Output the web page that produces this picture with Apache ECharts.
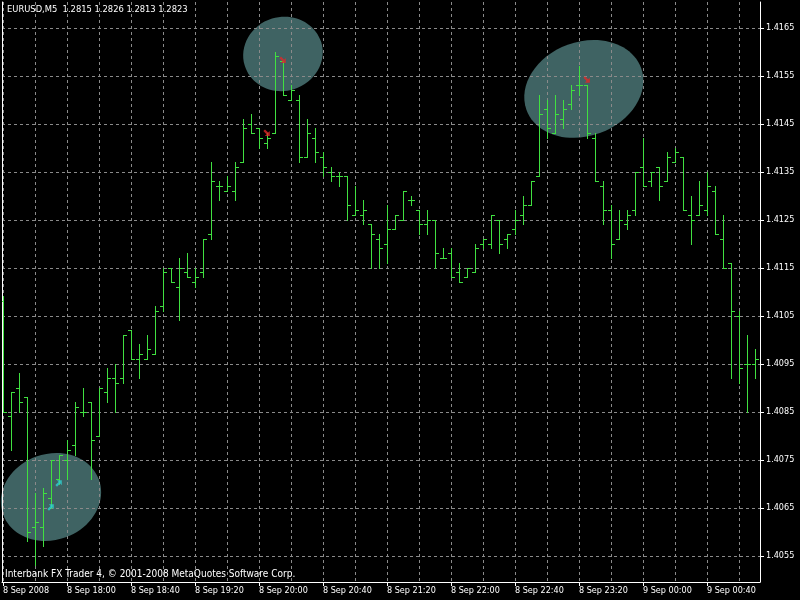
<!DOCTYPE html>
<html><head><meta charset="utf-8">
<script src="https://cdn.jsdelivr.net/npm/echarts@6/dist/echarts.min.js"></script>
<style>html,body{margin:0;padding:0;background:#000;}#c{width:800px;height:600px;}</style>
</head><body><div id="c"></div>
<script>
// ---- data ----
const timeLabels = ['8 Sep 2008','8 Sep 18:00','8 Sep 18:40','8 Sep 19:20','8 Sep 20:00','8 Sep 20:40','8 Sep 21:20','8 Sep 22:00','8 Sep 22:40','8 Sep 23:20','9 Sep 00:00','9 Sep 00:40'];
const timeLabelBars = [0,8,16,24,32,40,48,56,64,72,80,88];
const priceTicks = [1.4055,1.4065,1.4075,1.4085,1.4095,1.4105,1.4115,1.4125,1.4135,1.4145,1.4155,1.4165];
const opens  = [1.4108,1.4084,1.4090,1.4088,1.4061,1.4061,1.4067,1.4071,1.4075,1.4078,1.4085,1.4087,1.4080,1.4089,1.4092,1.4092,1.4102,1.4096,1.4096,1.4097,
                1.4107,1.4115,1.4111,1.4114,1.4112,1.4114,1.4122,1.4132,1.4131,1.4131,1.4137,1.4145,1.4144,1.4141,1.4143,1.4158,1.4150,1.4150,1.4138,1.4142,
                1.4138,1.4135,1.4134,1.4134,1.4126,1.4126,1.4124,1.4121,1.4120,1.4123,1.4125,1.4129,1.4127,1.4124,1.4125,1.4117,1.4118,1.4114,1.4113,1.4114,
                1.4120,1.4120,1.4125,1.4121,1.4123,1.4126,1.4128,1.4134,1.4148,1.4143,1.4146,1.4149,1.4153,1.4153,1.4142,1.4132,1.4127,1.4121,1.4124,1.4127,
                1.4136,1.4133,1.4136,1.4133,1.4137,1.4138,1.4126,1.4126,1.4127,1.4131,1.4121,1.4116,1.4105,1.4095,1.4095];
const highs  = [1.4109,1.4089,1.4093,1.4088,1.4068,1.4069,1.4075,1.4076,1.4079,1.4087,1.4090,1.4087,1.4090,1.4094,1.4095,1.4101,1.4102,1.4099,1.4101,1.4107,
                1.4115,1.4115,1.4117,1.4118,1.4115,1.4121,1.4137,1.4133,1.4134,1.4137,1.4146,1.4147,1.4144,1.4143,1.4160,1.4158,1.4153,1.4151,1.4146,1.4144,
                1.4139,1.4136,1.4135,1.4134,1.4132,1.4129,1.4124,1.4122,1.4128,1.4126,1.4131,1.4130,1.4127,1.4127,1.4125,1.4119,1.4119,1.4116,1.4115,1.4120,
                1.4121,1.4126,1.4125,1.4122,1.4127,1.4130,1.4133,1.4151,1.4150,1.4151,1.4150,1.4153,1.4157,1.4153,1.4143,1.4133,1.4128,1.4127,1.4127,1.4135,
                1.4142,1.4135,1.4136,1.4139,1.4140,1.4138,1.4130,1.4133,1.4135,1.4132,1.4126,1.4116,1.4106,1.4101,1.4098];
const lows   = [1.4085,1.4077,1.4085,1.4058,1.4053,1.4057,1.4065,1.4070,1.4071,1.4076,1.4084,1.4071,1.4080,1.4087,1.4085,1.4091,1.4096,1.4092,1.4096,1.4097,
                1.4106,1.4112,1.4104,1.4113,1.4111,1.4113,1.4121,1.4129,1.4131,1.4129,1.4137,1.4143,1.4140,1.4140,1.4143,1.4151,1.4150,1.4137,1.4138,1.4137,
                1.4134,1.4133,1.4132,1.4125,1.4126,1.4124,1.4115,1.4115,1.4116,1.4123,1.4125,1.4128,1.4122,1.4122,1.4115,1.4117,1.4113,1.4112,1.4113,1.4114,
                1.4119,1.4119,1.4118,1.4119,1.4122,1.4124,1.4128,1.4134,1.4142,1.4143,1.4144,1.4148,1.4151,1.4142,1.4133,1.4124,1.4117,1.4121,1.4123,1.4126,
                1.4132,1.4132,1.4129,1.4133,1.4137,1.4127,1.4120,1.4126,1.4126,1.4122,1.4115,1.4092,1.4091,1.4085,1.4092];
const closes = [1.4085,1.4089,1.4087,1.4060,1.4062,1.4068,1.4075,1.4076,1.4077,1.4086,1.4085,1.4079,1.4090,1.4092,1.4091,1.4101,1.4096,1.4097,1.4098,1.4106,
                1.4114,1.4112,1.4115,1.4113,1.4113,1.4121,1.4133,1.4132,1.4132,1.4136,1.4144,1.4143,1.4142,1.4142,1.4159,1.4151,1.4152,1.4138,1.4143,1.4139,
                1.4136,1.4134,1.4134,1.4128,1.4127,1.4127,1.4122,1.4119,1.4123,1.4126,1.4131,1.4129,1.4124,1.4125,1.4118,1.4117,1.4113,1.4112,1.4115,1.4119,
                1.4121,1.4126,1.4120,1.4122,1.4125,1.4128,1.4133,1.4147,1.4144,1.4147,1.4148,1.4152,1.4153,1.4143,1.4133,1.4127,1.4120,1.4125,1.4126,1.4135,
                1.4132,1.4135,1.4132,1.4138,1.4139,1.4127,1.4125,1.4128,1.4132,1.4122,1.4115,1.4106,1.4094,1.4095,1.4096];
const buyBars = [6, 7];
const buyPrices = [1.40652, 1.40702];
const sellBars = [33, 35, 73];
const sellPrices = [1.41431, 1.41583, 1.41542];
const zoneBars = [6, 35, 72.6];
const zonePrices = [1.40673, 1.41596, 1.41523];

// ---- styles ----
const FONT = '"DejaVu Sans Condensed","DejaVu Sans",sans-serif';
const BAR_COLOR = '#40e040';
const GRID_COLOR = '#8a8a8a';
const ZONE_COLOR = '#3f6363';
const zoneShapes = [{rx:51, ry:43, rot:0.35},{rx:40, ry:37, rot:0.3},{rx:61, ry:47, rot:0.35}];
const X_MIN = -0.125, X_MAX = 94.625;
const Y_MIN = 1.4165 - 554/48000, Y_MAX = 1.4165 + 26/48000;
const gridBars = [];
for (let b = 0; b <= 92; b += 4) gridBars.push(b);

const ohlc = opens.map((o, i) => [i, o, highs[i], lows[i], closes[i]]);

function renderOHLC(params, api) {
  const k = api.value(0);
  const px = Math.floor(api.coord([k, api.value(2)])[0]);
  const yh = Math.floor(api.coord([k, api.value(2)])[1]);
  const yl = Math.floor(api.coord([k, api.value(3)])[1]) + 1;
  const yo = Math.floor(api.coord([k, api.value(1)])[1]) + 0.5;
  const yc = Math.floor(api.coord([k, api.value(4)])[1]) + 0.5;
  const st = {stroke: BAR_COLOR, lineWidth: 1};
  return {type: 'group', children: [
    {type: 'line', shape: {x1: px + 0.5, y1: yh, x2: px + 0.5, y2: yl}, style: st},
    {type: 'line', shape: {x1: px - 3, y1: yo, x2: px + 1, y2: yo}, style: st},
    {type: 'line', shape: {x1: px, y1: yc, x2: px + 4, y2: yc}, style: st}
  ]};
}

const ARROW = 'path://M0,3 L5,3 L5,0 L9,4.5 L5,9 L5,6 L0,6 Z';
const chart = echarts.init(document.getElementById('c'), null, {renderer: 'canvas'});
const option = {
  backgroundColor: '#000',
  animation: false,
  title: [
    {text: 'EURUSD,M5  1.2815 1.2826 1.2813 1.2823', left: 7, top: 5, padding: 0,
     textStyle: {color: '#fff', fontSize: 9.3, fontWeight: 'normal', fontFamily: FONT}},
    {text: 'Interbank FX Trader 4, \u00a9 2001-2008 MetaQuotes Software Corp.', left: 5, top: 569, padding: 0,
     textStyle: {color: '#fff', fontSize: 10, fontWeight: 'normal', fontFamily: FONT}}
  ],
  grid: {left: 2, right: 40, top: 2, bottom: 18, show: false},
  xAxis: [
    {type: 'value', min: X_MIN, max: X_MAX, position: 'bottom',
     axisLine: {show: false, onZero: false}, axisTick: {show: false, customValues: gridBars},
     axisLabel: {show: false}, splitLine: {show: true, lineStyle: {color: GRID_COLOR, type: [3, 3], width: 1}}},
    {type: 'value', min: X_MIN, max: X_MAX, position: 'bottom',
     axisLine: {show: true, onZero: false, lineStyle: {color: '#fff', width: 1}},
     axisTick: {show: true, customValues: timeLabelBars, length: 4, lineStyle: {color: '#fff'}},
     axisLabel: {customValues: timeLabelBars, color: '#fff', fontSize: 9, fontFamily: FONT, align: 'left', margin: 4,
       formatter: v => timeLabels[timeLabelBars.indexOf(Math.round(v))] || ''},
     splitLine: {show: false}}
  ],
  yAxis: [
    {type: 'value', min: Y_MIN, max: Y_MAX, position: 'right', scale: true,
     axisLine: {show: true, onZero: false, lineStyle: {color: '#fff', width: 1}},
     axisTick: {show: true, customValues: priceTicks, length: 4, lineStyle: {color: '#fff'}},
     axisLabel: {customValues: priceTicks, color: '#fff', fontSize: 9, fontFamily: FONT, margin: 6,
       formatter: v => v.toFixed(4)},
     splitLine: {show: true, lineStyle: {color: GRID_COLOR, type: [3, 3], width: 1}}},
    {type: 'value', min: Y_MIN, max: Y_MAX, position: 'left', scale: true,
     axisLine: {show: true, onZero: false, lineStyle: {color: '#fff', width: 1}},
     axisTick: {show: false}, axisLabel: {show: false}, splitLine: {show: false}}
  ],
  series: [
    {type: 'custom', name: 'EURUSD', xAxisIndex: 0, yAxisIndex: 0, renderItem: renderOHLC,
     encode: {x: 0, y: [1, 2, 3, 4]}, data: ohlc, clip: true, z: 3},
    {type: 'scatter', name: 'buy', xAxisIndex: 0, yAxisIndex: 0,
     data: buyBars.map((b, i) => [b, buyPrices[i]]), symbol: ARROW, symbolSize: [8, 7], symbolRotate: 45,
     itemStyle: {color: '#2fd0d0'}, z: 5},
    {type: 'scatter', name: 'sell', xAxisIndex: 0, yAxisIndex: 0,
     data: sellBars.map((b, i) => [b, sellPrices[i]]), symbol: ARROW, symbolSize: [8, 7], symbolRotate: -45,
     itemStyle: {color: '#e02828'}, z: 5}
  ]
};
chart.setOption(option);
const zones = zoneBars.map((b, i) => {
  const p = chart.convertToPixel({seriesIndex: 0}, [b, zonePrices[i]]);
  const s = zoneShapes[i];
  return {type: 'ellipse', x: p[0], y: p[1], rotation: s.rot, shape: {cx: 0, cy: 0, rx: s.rx, ry: s.ry},
          style: {fill: ZONE_COLOR}, z: -1, silent: true};
});
chart.setOption({graphic: zones});
</script>
</body></html>
